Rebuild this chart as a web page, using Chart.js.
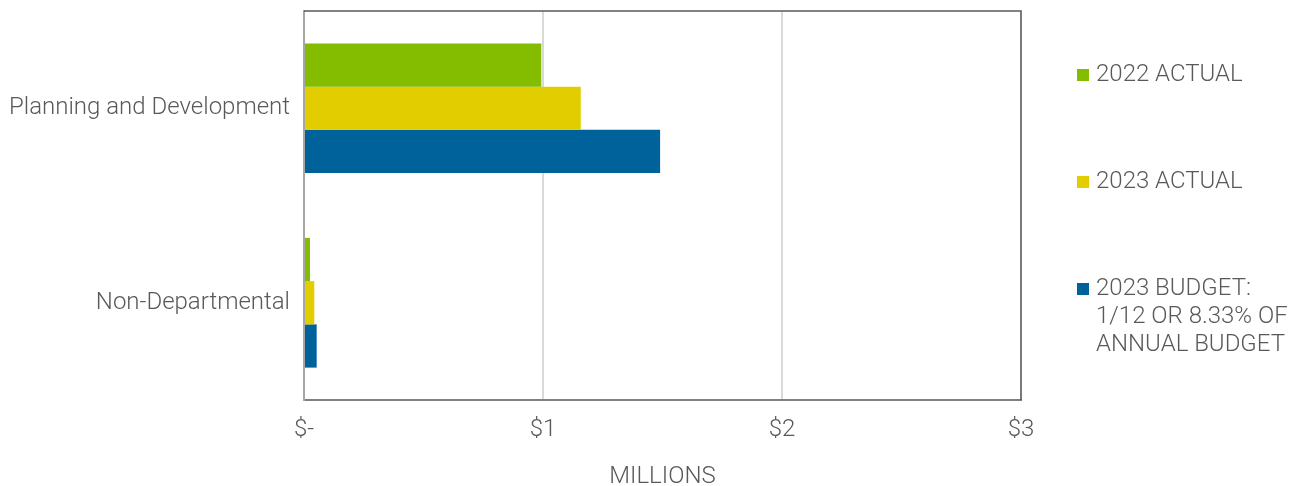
<!DOCTYPE html>
<html>
<head>
<meta charset="utf-8">
<script src="https://cdn.jsdelivr.net/npm/chart.js@4.4.1/dist/chart.umd.min.js"></script>
<style>
  html, body { margin: 0; padding: 0; background: #fff; }
  #wrap { width: 1299px; height: 486px; }
</style>
</head>
<body>
<div id="wrap"><canvas id="spendChart"></canvas></div>
<script>
// Spending by department, in millions of dollars
const departments = ['Planning and Development', 'Non-Departmental'];
const actual2022 = [0.993, 0.025];
const actual2023 = [1.158, 0.043];
const budget2023 = [1.49, 0.053];
const xTickLabels = ['$-', '$1', '$2', '$3'];
const legendLines = [
    ['2022 ACTUAL'],
    ['2023 ACTUAL'],
    ['2023 BUDGET:', '1/12 OR 8.33% OF', 'ANNUAL BUDGET']
];

const textColor = '#595959';
const fontFamily = 'Roboto, "Noto Sans", sans-serif';

// Top and right edges of the plot frame
const plotFrame = {
    id: 'plotFrame',
    afterDraw(chart) {
        const { ctx, chartArea } = chart;
        ctx.save();
        ctx.strokeStyle = '#595959';
        ctx.lineWidth = 1.5;
        ctx.beginPath();
        ctx.moveTo(chartArea.left, chartArea.top);
        ctx.lineTo(chartArea.right, chartArea.top);
        ctx.lineTo(chartArea.right, chartArea.bottom);
        ctx.stroke();
        ctx.restore();
    }
};

// Legend stacked down the right side, one block per dataset
const sideLegend = {
    id: 'sideLegend',
    afterDraw(chart) {
        const { ctx, chartArea } = chart;
        ctx.save();
        ctx.font = '300 24px ' + fontFamily;
        ctx.textBaseline = 'middle';
        let y = chartArea.top + 64;
        chart.data.datasets.forEach((ds, i) => {
            ctx.fillStyle = ds.backgroundColor;
            ctx.fillRect(chartArea.right + 56, y - 6, 12, 12);
            ctx.fillStyle = textColor;
            legendLines[i].forEach((line, j) => {
                ctx.fillText(line, chartArea.right + 75, y + j * 28);
            });
            y += 107;
        });
        ctx.restore();
    }
};

const ctx = document.getElementById('spendChart').getContext('2d');
new Chart(ctx, {
    type: 'bar',
    data: {
        labels: departments,
        datasets: [{
            label: legendLines[0].join(' '),
            data: actual2022,
            backgroundColor: '#84bd00'
        }, {
            label: legendLines[1].join(' '),
            data: actual2023,
            backgroundColor: '#e1cd00'
        }, {
            label: legendLines[2].join(' '),
            data: budget2023,
            backgroundColor: '#00629b'
        }]
    },
    options: {
        indexAxis: 'y',
        responsive: true,
        maintainAspectRatio: false,
        animation: false,
        categoryPercentage: 0.667,
        barPercentage: 1,
        layout: {
            padding: { top: 11, right: 278, left: 0, bottom: 0 }
        },
        plugins: {
            legend: { display: false },
            tooltip: { enabled: false }
        },
        scales: {
            x: {
                min: 0,
                max: 3,
                ticks: {
                    stepSize: 1,
                    padding: 16,
                    color: textColor,
                    font: { family: fontFamily, size: 24, weight: '300' },
                    callback: (value, index) => xTickLabels[index]
                },
                grid: { color: '#d9d9d9', lineWidth: 2, drawTicks: false },
                border: { color: '#808080', width: 2 },
                title: {
                    display: true,
                    text: 'MILLIONS',
                    color: textColor,
                    padding: { top: 0, bottom: 0 },
                    font: { family: fontFamily, size: 24, weight: '300', lineHeight: 0.75 }
                },
                afterFit(scale) {
                    scale.height = 86;
                    scale.paddingLeft = 0;
                    scale.paddingRight = 0;
                }
            },
            y: {
                ticks: {
                    padding: 14,
                    color: textColor,
                    font: { family: fontFamily, size: 24, weight: '300' }
                },
                grid: { display: false, drawTicks: false },
                border: { color: '#a6a6a6', width: 2 },
                afterFit(scale) {
                    scale.width = 304;
                    scale.paddingTop = 0;
                    scale.paddingBottom = 0;
                }
            }
        }
    },
    plugins: [plotFrame, sideLegend]
});
</script>
</body>
</html>
